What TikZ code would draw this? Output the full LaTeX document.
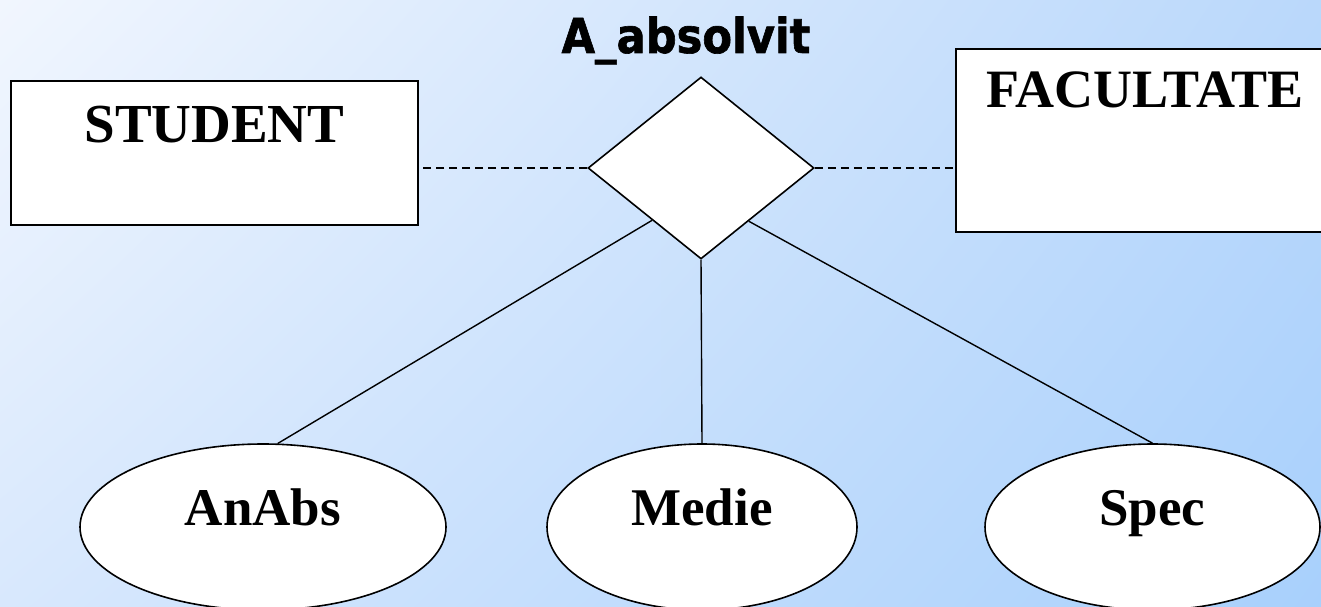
\documentclass[tikz,border=0pt]{standalone}
\usepackage{fontspec}
\setmainfont{Liberation Serif}
\newfontfamily\titlefont{DejaVu Sans Condensed Bold}[FakeBold=1.3]
\usetikzlibrary{shapes.geometric,calc,shadings}
\definecolor{bgUL}{HTML}{F1F6FE}
\definecolor{bgUR}{HTML}{BAD8FB}
\definecolor{bgLL}{HTML}{D8E8FD}
\definecolor{bgLR}{HTML}{A8D0FC}
\tikzset{
  entity/.style={draw=black, fill=white, line width=1.8pt, rectangle, inner sep=0pt,
    font=\fontsize{54}{54}\selectfont\bfseries},
  relation/.style={draw=black, fill=white, line width=1.6pt, diamond, inner sep=0pt},
  attrib/.style={draw=black, fill=white, line width=1.6pt, ellipse, inner sep=0pt,
    text height=34pt, text depth=38pt, font=\fontsize{53}{53}\selectfont\bfseries},
  link/.style={line width=1.4pt},
  dlink/.style={line width=1.4pt, dash pattern=on 8pt off 5pt},
}
\begin{document}
\begin{tikzpicture}[x=1pt, y=-1pt]
  % background
  \shade[upper left=bgUL, upper right=bgUR, lower left=bgLL, lower right=bgLR]
    (0,0) rectangle (1321,607);
  \useasboundingbox (0,0) rectangle (1321,607);

  % relationship and its name
  \node[font=\titlefont\fontsize{48}{48}\selectfont, anchor=base] (title) at (686,53) {A\_absolvit};
  \node[relation, minimum width=226pt, minimum height=182pt, aspect=1.24] (rel) at (701,168) {};

  % entities
  \node[entity, minimum width=407pt, minimum height=144pt, text height=61pt, text depth=83pt,
    font=\fontsize{55}{55}\selectfont\bfseries] (stu) at (214.5,153) {STUDENT};
  \node[entity, minimum width=378pt, minimum height=183pt, text height=58pt, text depth=125pt] (fac) at (1145,140.5) {FACULTATE};

  % attributes
  \node[attrib, minimum width=366pt, minimum height=166pt] (an) at (263,527) {AnAbs};
  \node[attrib, minimum width=310pt, minimum height=166pt] (me) at (702,527) {Medie};
  \node[attrib, minimum width=335pt, minimum height=166pt] (sp) at (1152.5,527) {Spec};

  % connectors
  \draw[dlink] (rel.west) -- (rel.west -| stu.east);
  \draw[dlink] (rel.east) -- (rel.east -| fac.west);
  \draw[link] ($(rel.west)!0.57!(rel.south)$) -- (an.80);
  \draw[link] (rel.south) -- (me.north);
  \draw[link] ($(rel.east)!0.58!(rel.south)$) -- (sp.north);
\end{tikzpicture}
\end{document}
